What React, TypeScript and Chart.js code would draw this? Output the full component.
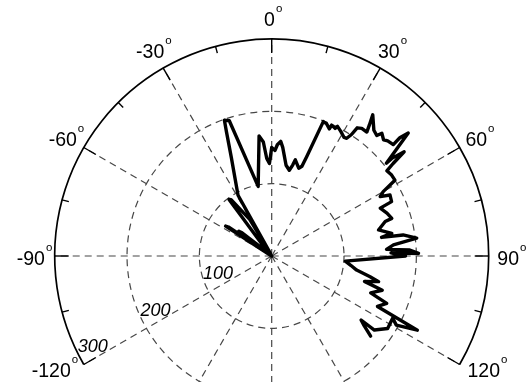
import React, { useEffect, useRef } from "react";
import { Chart, registerables } from "chart.js";

Chart.register(...registerables);

// Polar data: angle in degrees (0 at top, clockwise positive) and radius
const angleDeg = [
  -60, -57, -56.2, -54.5, -53, -52, -47, -37, -35.8, -31, -27, -29, -22.3, -20, -19.2, -17.4,
  -11, -6, -4.2, -2.9, -1.4, 0, 1.8, 2.9, 4.5, 5.8, 9, 11.6, 13, 13.8, 17.1, 18.6, 19.4,
  21, 22.5, 24.4, 24.6, 26.4, 26.9, 29, 31.4, 32.5, 33.3, 33.7, 35.2, 37.5, 36.7, 35.6,
  39.1, 41.1, 41.9, 43.9, 45.2, 47.5, 47.3, 48, 51, 50.9, 51.8, 52.7, 53.5, 56, 58.4,
  60, 61.3, 62.7, 65.6, 66.2, 69.6, 72.6, 73.1, 76.3, 79.3, 80.4, 80.9, 83, 84.8, 86.7,
  87.5, 89, 88.5, 90, 94, 96.7, 99.4, 101.9, 103.5, 105.3, 107.2, 110.4, 112.4, 115.5,
  117, 119, 117.2, 122, 125.8, 125.6, 127, 129,
];
const radius = [
  0, 76, 72, 12, 57, 52, 6, 98, 96, 59, 4, 96, 147, 183, 199, 196,
  98, 167, 158, 135, 128, 150, 146, 154, 159, 151, 127, 121, 129, 137, 127, 131, 146,
  199, 198, 193, 199, 197, 201, 197, 192, 193, 201, 213, 216, 216, 226, 240,
  224, 221, 228, 223, 226, 228, 241, 254, 204, 214, 233, 211, 198, 200, 200,
  178, 171, 184, 182, 164, 170, 174, 164, 152, 169, 154, 184, 202, 169, 159,
  191, 203, 165, 185, 102, 110, 119, 139, 152, 133, 160, 146, 172, 162,
  226, 197, 188, 189, 175, 152, 160, 176,
];

const ringValues = [100, 200];
const rMax = 300;
const spokeAngles = [0, 30, 60, 90, 120, 150, 180, 210, 240, 270, 300, 330];
const angleTickLabels = [-120, -90, -60, -30, 0, 30, 60, 90, 120];
const radiusTickLabels = [100, 200, 300];

const FONT = '"Liberation Sans", Arial, Helvetica, sans-serif';
const rad = (d: number) => (d * Math.PI) / 180;

const polarFrame = {
  id: "polarFrame",
  beforeDatasetsDraw(chart: any) {
    const { ctx } = chart;
    const xs = chart.scales.x;
    const ys = chart.scales.y;
    const P = (t: number, r: number) => [
      xs.getPixelForValue(r * Math.sin(rad(t))),
      ys.getPixelForValue(r * Math.cos(rad(t))),
    ];
    const [cx, cy] = P(0, 0);
    const ppu = xs.getPixelForValue(1) - xs.getPixelForValue(0);
    ctx.save();
    ctx.strokeStyle = "#474747";
    ctx.lineWidth = 1.2;
    ctx.setLineDash([7, 5]);
    for (const v of ringValues) {
      ctx.beginPath();
      ctx.arc(cx, cy, v * ppu, 0, Math.PI * 2);
      ctx.stroke();
    }
    for (const a of spokeAngles) {
      const [ex, ey] = P(a, rMax);
      ctx.beginPath();
      ctx.moveTo(cx, cy);
      ctx.lineTo(ex, ey);
      ctx.stroke();
    }
    ctx.setLineDash([]);
    ctx.strokeStyle = "#000";
    ctx.lineWidth = 1.7;
    ctx.beginPath();
    ctx.arc(cx, cy, rMax * ppu, rad(-120 - 90), rad(120 - 90));
    ctx.stroke();
    ctx.lineWidth = 1.4;
    for (let a = -120; a <= 120; a += 15) {
      const len = a % 30 === 0 ? 14 : 7;
      const [x1, y1] = P(a, rMax);
      const [x2, y2] = P(a, rMax - len / ppu);
      ctx.beginPath();
      ctx.moveTo(x1, y1);
      ctx.lineTo(x2, y2);
      ctx.stroke();
    }
    ctx.restore();
  },
  afterDatasetsDraw(chart: any) {
    const { ctx } = chart;
    const xs = chart.scales.x;
    const ys = chart.scales.y;
    const P = (t: number, r: number) => [
      xs.getPixelForValue(r * Math.sin(rad(t))),
      ys.getPixelForValue(r * Math.cos(rad(t))),
    ];
    ctx.save();
    ctx.fillStyle = "#000";
    ctx.textBaseline = "alphabetic";
    ctx.textAlign = "left";
    for (const a of angleTickLabels) {
      const [px, py] = P(a, rMax * 1.1);
      const main = String(a);
      ctx.font = `19.5px ${FONT}`;
      const w1 = ctx.measureText(main).width;
      ctx.font = `11.5px ${FONT}`;
      const w2 = ctx.measureText("o").width;
      const gap = 1;
      let x0 = px - (w1 + gap + w2) / 2 + 1.5;
      let base = py + 9;
      if (a === -120) {
        x0 -= 11.5;
        base = py + 1.5;
      } else if (a === 120) {
        x0 += 7.5;
        base = py + 2;
      }
      ctx.font = `19.5px ${FONT}`;
      ctx.fillText(main, x0, base);
      ctx.font = `11.5px ${FONT}`;
      ctx.fillText("o", x0 + w1 + gap, base - 14);
    }
    ctx.font = `italic 18px ${FONT}`;
    ctx.textAlign = "center";
    for (const v of radiusTickLabels) {
      const [px, py] = P(-120, v);
      ctx.fillText(String(v), px + 9, py - 12.8);
    }
    ctx.restore();
  },
};

export default function App() {
  const canvasRef = useRef<HTMLCanvasElement | null>(null);
  useEffect(() => {
    const canvas = canvasRef.current;
    if (!canvas) return;
    const W = 529;
    const H = 382;
    const cxPx = 271.7;
    const cyPx = 256;
    const ppu = 217 / rMax;
    const points = angleDeg.map((t, i) => ({
      x: radius[i] * Math.sin(rad(t)),
      y: radius[i] * Math.cos(rad(t)),
    }));
    const chart = new Chart(canvas, {
      type: "scatter",
      data: {
        datasets: [
          {
            data: points,
            showLine: true,
            borderColor: "#000",
            backgroundColor: "#000",
            borderWidth: 3.4,
            pointRadius: 0,
            pointHoverRadius: 0,
            tension: 0,
            fill: false,
            borderJoinStyle: "round",
            borderCapStyle: "round",
          } as any,
        ],
      },
      options: {
        animation: false,
        responsive: false,
        maintainAspectRatio: false,
        events: [],
        layout: { padding: 0 },
        plugins: { legend: { display: false }, tooltip: { enabled: false }, title: { display: false } },
        scales: {
          x: { type: "linear", display: false, min: -cxPx / ppu, max: (W - cxPx) / ppu },
          y: { type: "linear", display: false, min: -(H - cyPx) / ppu, max: cyPx / ppu },
        },
      },
      plugins: [polarFrame],
    });
    return () => chart.destroy();
  }, []);
  return (
    <div style={{ position: "fixed", left: 0, top: 0, width: 529, height: 382, background: "#fff" }}>
      <canvas ref={canvasRef} width={529} height={382} style={{ width: 529, height: 382, display: "block" }} />
    </div>
  );
}
